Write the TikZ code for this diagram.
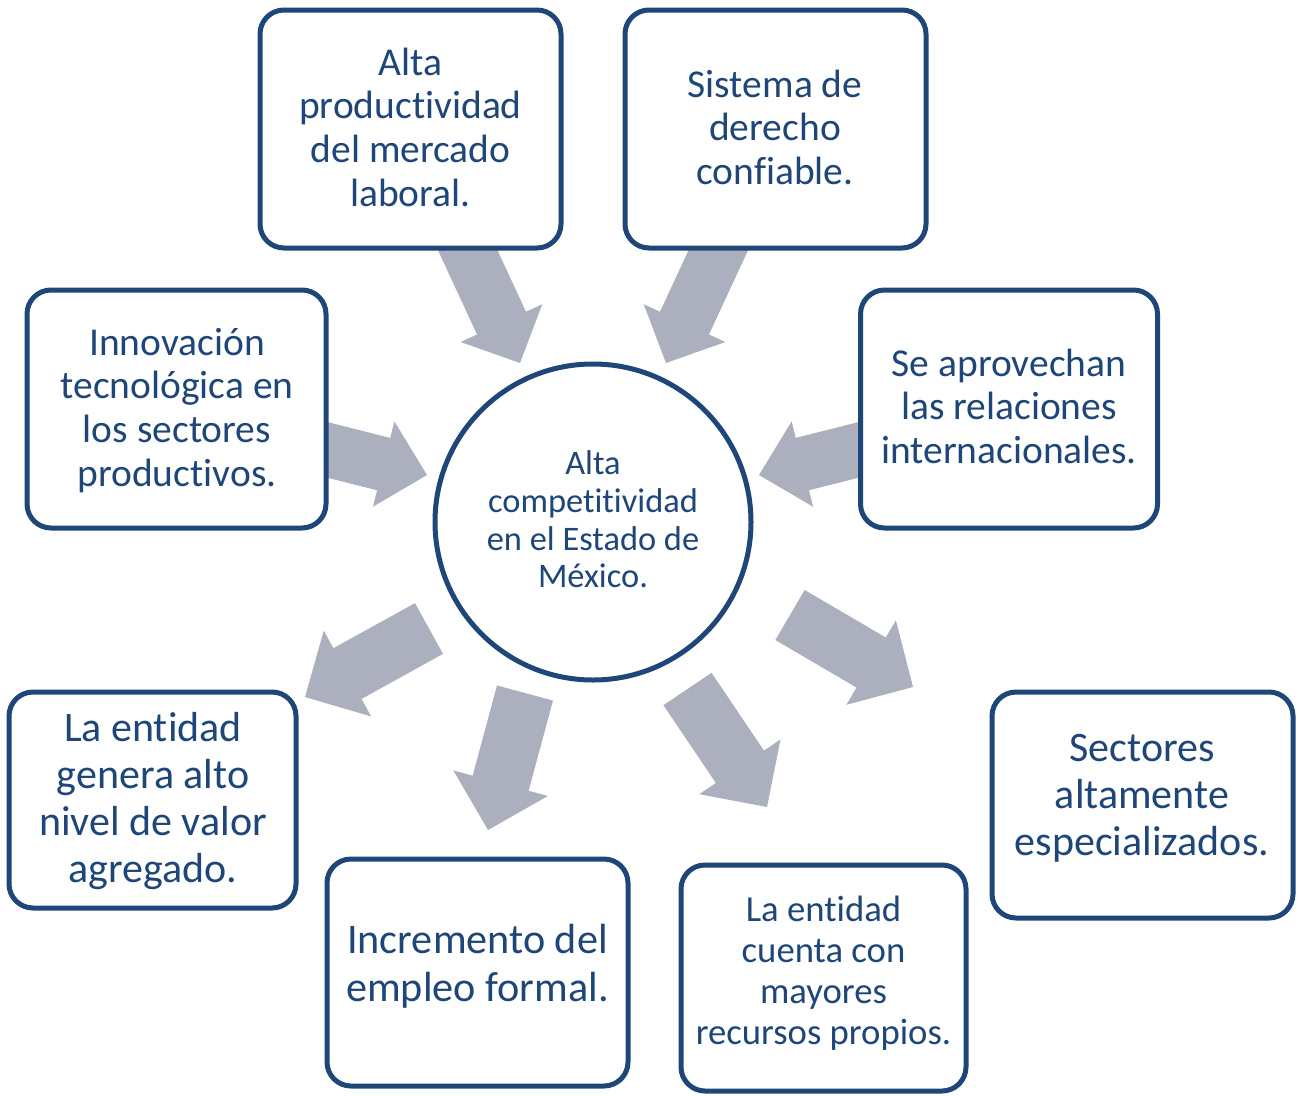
\documentclass[tikz,border=0pt]{standalone}
\usepackage{fontspec}
\setmainfont{Carlito}[Ligatures={NoCommon,NoRare,NoContextual}]
\usetikzlibrary{calc}
\definecolor{navy}{HTML}{1F4678}
\definecolor{agray}{HTML}{ACB0BE}
\tikzset{
  box/.style={draw=navy, line width=5pt, rounded corners=24pt, fill=white, inner sep=0pt},
  hub/.style={circle, draw=navy, line width=5pt, fill=white, minimum size=316pt, inner sep=0pt},
  lbl/.style={text=navy, align=center, anchor=north, inner sep=0pt},
  fA/.style={font=\fontsize{39.5}{43.8}\selectfont},
  fC/.style={font=\fontsize{34.4}{37.9}\selectfont},
  fE/.style={font=\fontsize{42}{46.7}\selectfont},
  fF/.style={font=\fontsize{42.2}{48.3}\selectfont},
  fG/.style={font=\fontsize{36.7}{40.7}\selectfont},
  arrowfill/.style={fill=agray},
}
% #1 tail, #2 tip, #3 half shaft width, #4 half head width, #5 head length
\newcommand\blockarrow[5]{%
  \coordinate (ba-h) at ($(#2)!#5!(#1)$);
  \fill[arrowfill] ($(#1)!#3!90:(#2)$) -- ($(ba-h)!#3!90:(#2)$) -- ($(ba-h)!#4!90:(#2)$)
    -- (#2) -- ($(ba-h)!#4!-90:(#2)$) -- ($(ba-h)!#3!-90:(#2)$) -- ($(#1)!#3!-90:(#2)$) -- cycle;
}
\begin{document}
\begin{tikzpicture}[x=1pt, y=-1pt]
\useasboundingbox (0,0) rectangle (1303,1095);
% arrow end points
\coordinate (a1s) at (453.7,220); \coordinate (a1e) at (520,363);
\coordinate (a2s) at (732.3,220); \coordinate (a2e) at (666,363);
\coordinate (a3s) at (300,443);   \coordinate (a3e) at (427,475);
\coordinate (a4s) at (886,443);   \coordinate (a4e) at (759,475);
\coordinate (a5s) at (429,628.5); \coordinate (a5e) at (305,697);
\coordinate (a6s) at (525,693);   \coordinate (a6e) at (488,830);
\coordinate (a7s) at (687.5,689); \coordinate (a7e) at (767,807);
\coordinate (a8s) at (790,615);   \coordinate (a8e) at (913,687);
\blockarrow{a1s}{a1e}{27pt}{45pt}{44pt}
\blockarrow{a2s}{a2e}{27pt}{45pt}{44pt}
\blockarrow{a3s}{a3e}{27pt}{44pt}{44.7pt}
\blockarrow{a4s}{a4e}{27pt}{44pt}{44.7pt}
\blockarrow{a5s}{a5e}{29pt}{49pt}{48.5pt}
\blockarrow{a6s}{a6e}{29pt}{49pt}{48.5pt}
\blockarrow{a7s}{a7e}{29pt}{49pt}{48.5pt}
\blockarrow{a8s}{a8e}{29pt}{49pt}{48.5pt}
% boxes
\node[box, minimum width=301pt, minimum height=238pt] (b1) at (410.5,129) {};
\node[box, minimum width=301pt, minimum height=238pt] (b2) at (775.5,129) {};
\node[box, minimum width=299pt, minimum height=238pt] (b3) at (176.5,409) {};
\node[box, minimum width=297pt, minimum height=238pt] (b4) at (1009,409) {};
\node[box, minimum width=287pt, minimum height=216pt] (b5) at (152.5,800) {};
\node[box, minimum width=301pt, minimum height=227pt] (b6) at (477.5,972.5) {};
\node[box, minimum width=285pt, minimum height=226pt] (b7) at (823.5,978) {};
\node[box, minimum width=301pt, minimum height=226pt] (b8) at (1142.5,805) {};
\node[hub] (c) at (593,522) {};
% texts
\node[lbl, fA] (t1) at (410.5,44.3) {\strut Alta\\productividad\\del mercado\\laboral.};
\node[lbl, fA] (t2) at (775,66.3) {\strut Sistema de\\derecho\\confiable.};
\node[lbl, fA] (t3) at (177,324.3) {\strut Innovación\\tecnológica en\\los sectores\\productivos.};
\node[lbl, fA] (t4) at (1009,345.3) {\strut Se aprovechan\\las relaciones\\internacionales.};
\node[lbl, fE] (t5) at (153,709) {\strut La entidad\\genera alto\\nivel de valor\\agregado.};
\node[lbl, fF] (t6) at (477.5,919.5) {\strut Incremento del\\empleo formal.};
\node[lbl, fG] (t7) at (823.5,893.2) {\strut La entidad\\cuenta con\\mayores\\recursos propios.};
\node[lbl, fE] (t8) at (1142,729) {\strut Sectores\\altamente\\especializados.};
\node[lbl, fC] (tc) at (593,447.5) {\strut Alta\\competitividad\\en el Estado de\\México.};
\end{tikzpicture}
\end{document}
